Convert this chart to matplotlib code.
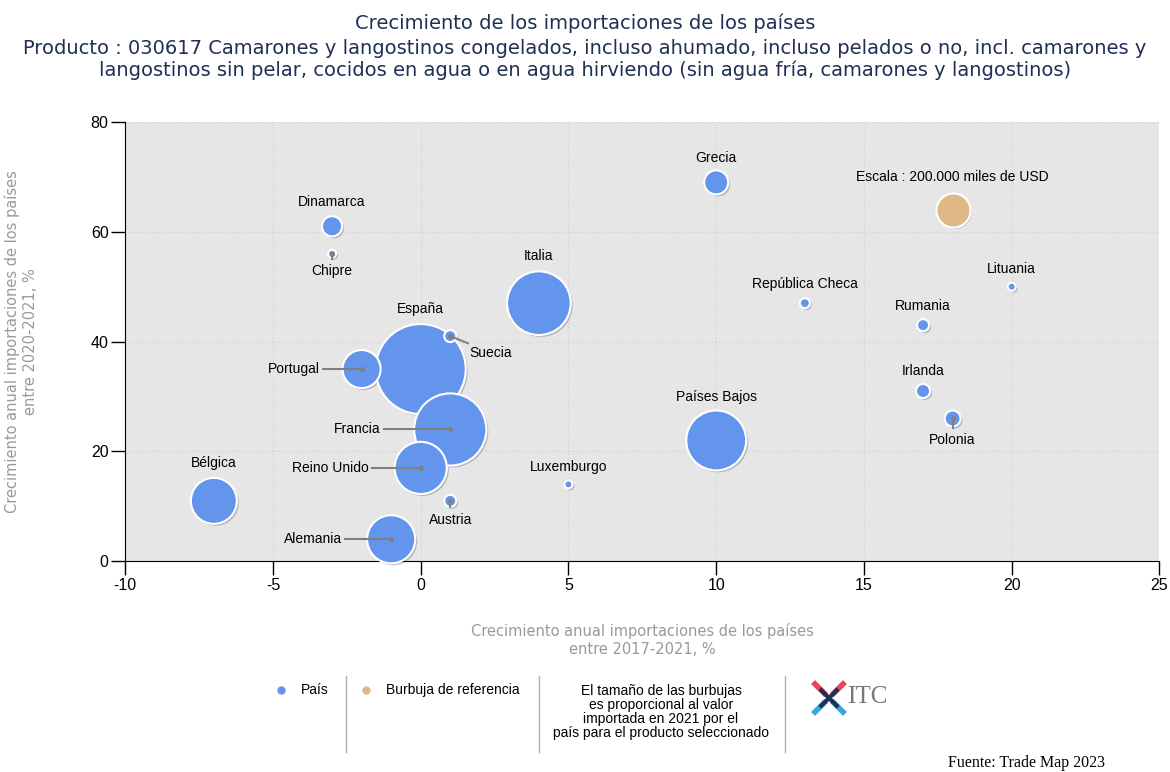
import matplotlib.pyplot as plt
import matplotlib.transforms as mtransforms
from matplotlib.lines import Line2D

plt.rcParams['axes.unicode_minus'] = False

# data: (x = growth 2017-2021 %, y = growth 2020-2021 %, imports 2021 thousand USD)
countries = ['España', 'Francia', 'Italia', 'Países Bajos', 'Reino Unido', 'Alemania',
             'Bélgica', 'Portugal', 'Grecia', 'Dinamarca', 'Polonia', 'Irlanda',
             'Rumania', 'Suecia', 'Austria', 'República Checa', 'Chipre', 'Lituania',
             'Luxemburgo']
growth_5y = [0, 1, 4, 10, 0, -1, -7, -2, 10, -3, 18, 17, 17, 1, 1, 13, -3, 20, 5]
growth_1y = [35, 24, 47, 22, 17, 4, 11, 35, 69, 61, 26, 31, 43, 41, 11, 47, 56, 50, 14]
imports = [1400000, 900000, 700000, 620000, 470000, 400000, 365000, 250000, 100000,
           70000, 44000, 34000, 25000, 25000, 25000, 17000, 11000, 11000, 11000]

ref_label = 'Escala : 200.000 miles de USD'
ref_x, ref_y, ref_value = 18, 64, 200000

# label placement: (x, y, ha, leader line)
labels = {
    'España': (0, 46, 'center', False),
    'Francia': (-1.35, 24, 'right', True),
    'Italia': (4, 55.6, 'center', False),
    'Países Bajos': (10, 29.9, 'center', False),
    'Reino Unido': (-1.75, 17, 'right', True),
    'Alemania': (-2.65, 4, 'right', True),
    'Bélgica': (-7, 17.9, 'center', False),
    'Portugal': (-3.4, 35, 'right', True),
    'Grecia': (10, 73.4, 'center', False),
    'Dinamarca': (-3, 65.4, 'center', False),
    'Polonia': (18, 22, 'center', True),
    'Irlanda': (17, 34.6, 'center', False),
    'Rumania': (17, 46.4, 'center', False),
    'Suecia': (1.65, 37.9, 'left', True),
    'Austria': (1, 7.6, 'center', True),
    'República Checa': (13, 50.5, 'center', False),
    'Chipre': (-3, 52.9, 'center', True),
    'Lituania': (20, 53.2, 'center', False),
    'Luxemburgo': (5, 17.1, 'center', False),
}

BLUE = '#6495ED'
TAN = '#DEB887'
scale = 600 / 200000  # marker area per thousand USD

fig = plt.figure(figsize=(11.7, 7.72), dpi=100)
ax = fig.add_axes([0.107, 0.273, 0.884, 0.569])
ax.set_facecolor('#e6e6e6')

ax.set_xlim(-10, 25)
ax.set_ylim(0, 80)
ax.set_xticks(range(-10, 26, 5))
ax.set_yticks(range(0, 81, 20))
ax.grid(True, color='#cfcfcf', linestyle=(0, (1, 2)), linewidth=0.8)
ax.set_axisbelow(True)
for s in ['top', 'right']:
    ax.spines[s].set_visible(False)
ax.tick_params(direction='out', length=10, width=1, labelsize=11.5, pad=2)
for lab in ax.get_xticklabels() + ax.get_yticklabels():
    lab.set_family('Liberation Sans')

sizes = [v * scale for v in imports]
shadow = mtransforms.offset_copy(ax.transData, fig=fig, x=2, y=-2, units='dots')
ax.scatter(growth_5y, growth_1y, s=sizes, color='#9a9a9a', alpha=0.6,
           edgecolors='none', transform=shadow, zorder=2, clip_on=False)
ax.scatter(growth_5y, growth_1y, s=sizes, color=BLUE, edgecolors='white',
           linewidths=1.5, zorder=3, clip_on=False)
ax.scatter([ref_x], [ref_y], s=ref_value * scale, color='#9a9a9a', alpha=0.6,
           edgecolors='none', transform=shadow, zorder=2)
ax.scatter([ref_x], [ref_y], s=ref_value * scale, color=TAN, edgecolors='white',
           linewidths=1.5, zorder=3)
ax.text(ref_x, 70, ref_label, ha='center', va='center', fontsize=10,
        family='Liberation Sans', zorder=5)

for name, x, y in zip(countries, growth_5y, growth_1y):
    lx, ly, ha, leader = labels[name]
    ax.text(lx, ly, name, ha=ha, va='center', fontsize=10, family='Liberation Sans', zorder=5)
    if leader:
        if ha == 'right':
            ex, ey = lx + 0.1, ly
        elif ha == 'left':
            ex, ey = lx - 0.05, ly + 1.8
        else:
            ey = ly + 2.2 if ly < y else ly - 2.2
            ex = lx
        ax.plot([ex, x], [ey, y], color='#808080', linewidth=1.5, zorder=4)
        ax.scatter([x], [y], s=7, color='#808080', zorder=4)

ax.set_xlabel('Crecimiento anual importaciones de los países\nentre 2017-2021, %',
              color='#999999', fontsize=10.5, labelpad=22)
ax.set_ylabel('Crecimiento anual importaciones de los países\nentre 2020-2021, %',
              color='#999999', fontsize=10.5, labelpad=38)

fig.text(0.5, 0.970, 'Crecimiento de los importaciones de los países', ha='center',
         va='center', fontsize=14, color='#1f2f55')
fig.text(0.5, 0.923, 'Producto : 030617 Camarones y langostinos congelados, incluso ahumado, '
         'incluso pelados o no, incl. camarones y\nlangostinos sin pelar, cocidos en agua o en '
         'agua hirviendo (sin agua fría, camarones y langostinos)', ha='center', va='center',
         fontsize=14, color='#1f2f55', linespacing=1.12)

# legend strip
for xp in [346, 539, 785]:
    fig.add_artist(Line2D([xp / 1170] * 2, [1 - 676 / 772, 1 - 752 / 772],
                          color='#b0b0b0', linewidth=1))
fig.add_artist(Line2D([281 / 1170], [1 - 690 / 772], marker='o', markersize=7,
                      color=BLUE, markeredgecolor='white'))
fig.add_artist(Line2D([366 / 1170], [1 - 690 / 772], marker='o', markersize=7,
                      color=TAN, markeredgecolor='white'))
fig.text(301 / 1170, 1 - 690 / 772, 'País', va='center', fontsize=10, family='Liberation Sans')
fig.text(386 / 1170, 1 - 690 / 772, 'Burbuja de referencia', va='center', fontsize=10,
         family='Liberation Sans')
fig.text(661 / 1170, 1 - 712 / 772, 'El tamaño de las burbujas\nes proporcional al valor\n'
         'importada en 2021 por el\npaís para el producto seleccionado', ha='center',
         va='center', fontsize=10, family='Liberation Sans', linespacing=1.0)

# ITC logo
lx0, ly0, d = 829, 698, 14
for dx, dy, c in [(-d, -d, '#e8455c'), (d, -d, '#e8455c'), (-d, d, '#36a9e1'),
                  (d, d, '#36a9e1')]:
    fig.add_artist(Line2D([(lx0 + dx * 0.35) / 1170, (lx0 + dx) / 1170],
                          [1 - (ly0 + dy * 0.35) / 772, 1 - (ly0 + dy) / 772],
                          color=c, linewidth=4))
fig.add_artist(Line2D([(lx0 - d * 0.55) / 1170, (lx0 + d * 0.55) / 1170],
                      [1 - (ly0 - d * 0.55) / 772, 1 - (ly0 + d * 0.55) / 772],
                      color='#1f2f55', linewidth=3))
fig.add_artist(Line2D([(lx0 - d * 0.55) / 1170, (lx0 + d * 0.55) / 1170],
                      [1 - (ly0 + d * 0.55) / 772, 1 - (ly0 - d * 0.55) / 772],
                      color='#1f2f55', linewidth=3))
fig.text(847 / 1170, 1 - 697 / 772, 'ITC', va='center', fontsize=18, family='Liberation Serif',
         color='#777777')

fig.text(1027 / 1170, 1 - 763 / 772, 'Fuente: Trade Map 2023', ha='center', va='center',
         fontsize=11.5, family='Liberation Serif')

fig.savefig('out.png', dpi=100)
